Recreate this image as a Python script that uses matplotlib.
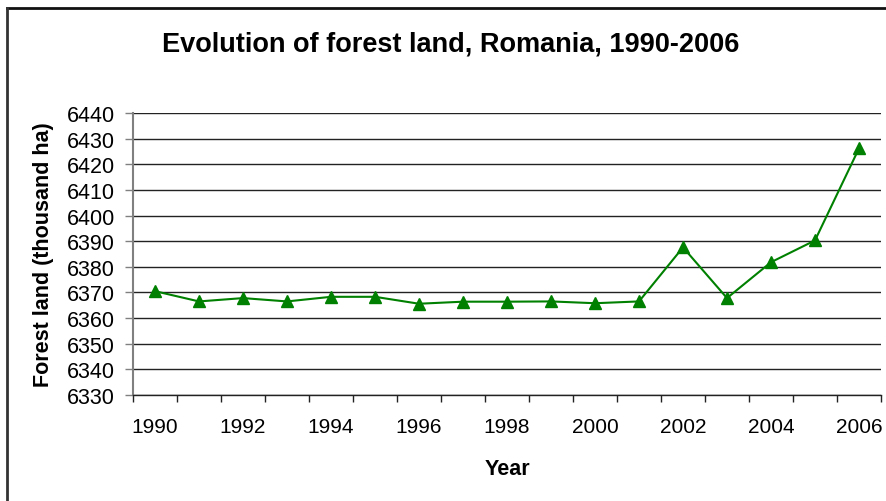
import matplotlib
matplotlib.use("Agg")
import matplotlib.pyplot as plt
from matplotlib.lines import Line2D
import numpy as np

years = [1990, 1991, 1992, 1993, 1994, 1995, 1996, 1997, 1998, 1999,
         2000, 2001, 2002, 2003, 2004, 2005, 2006]
forest = [6370.5, 6366.5, 6367.8, 6366.5, 6368.3, 6368.3, 6365.6, 6366.4, 6366.4,
          6366.5, 6365.8, 6366.5, 6387.6, 6367.8, 6381.8, 6390.3, 6426.2]
yticks = list(range(6330, 6441, 10))
title = "Evolution of forest land, Romania, 1990-2006"
xlabel = "Year"
ylabel = "Forest land (thousand ha)"

plt.rcParams['font.family'] = ['Liberation Sans', 'DejaVu Sans']

fig = plt.figure(figsize=(8.86, 5.02), dpi=100)
ax = fig.add_axes([133/886, 1-396/502, (881-133)/886, (396-114)/502])

x = np.arange(len(years))
ax.plot(x, forest, color='#008000', lw=1.5, marker='^', markersize=8,
        markerfacecolor='#008000', markeredgecolor='#008000', zorder=3)

ax.set_xlim(-0.5, len(years) - 0.5)
ax.set_ylim(yticks[0], yticks[-1])
ax.set_yticks(yticks)
ax.set_yticklabels([str(v) for v in yticks], fontsize=15.5)
ax.yaxis.grid(True, color='#222222', lw=1)
ax.set_axisbelow(True)

# category boundaries as tick marks, labels every 2 years at centers
ax.set_xticks(np.arange(-0.5, len(years), 1.0))
ax.set_xticklabels([])
ax.set_xticks(x[::2], minor=True)
ax.set_xticklabels([str(y) for y in years[::2]], minor=True, fontsize=15)
ax.tick_params(axis='x', which='major', length=5, width=1, color='#222222', direction='out')
ax.tick_params(axis='x', which='minor', length=0, pad=16)
ax.tick_params(axis='y', length=6, width=1, color='#808080', pad=7)

for s in ['top', 'right']:
    ax.spines[s].set_visible(False)
ax.spines['left'].set_color('#808080')
ax.spines['left'].set_linewidth(1.5)
ax.spines['bottom'].set_color('#222222')
ax.spines['bottom'].set_linewidth(1)

ax.set_xlabel(xlabel, fontsize=15.5, fontweight='bold', labelpad=16)
ax.set_ylabel(ylabel, fontsize=15.5, fontweight='bold', labelpad=9)

fig.text(451/886, 1-45/502, title, fontsize=19.5, fontweight='bold',
         ha='center', va='center')

# chart border (top and left)
fig.add_artist(Line2D([7/886, 1.0], [1-9/502, 1-9/502], color='#111111', lw=2))
fig.add_artist(Line2D([7/886, 7/886], [0, 1-9/502], color='#333333', lw=2))

fig.savefig('out.png', dpi=100)
